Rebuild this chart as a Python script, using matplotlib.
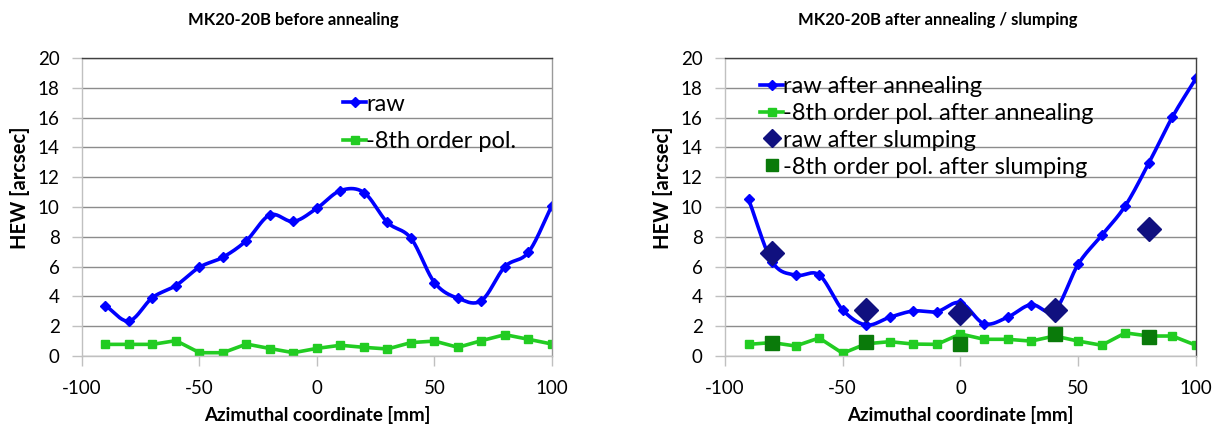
import numpy as np
import matplotlib as mpl
from matplotlib import pyplot as plt

mpl.rcParams['font.family'] = ['Lato', 'DejaVu Sans']
mpl.rcParams['axes.unicode_minus'] = False

# azimuthal positions [mm]
x_pos = [-90, -80, -70, -60, -50, -40, -30, -20, -10, 0, 10, 20, 30, 40, 50, 60, 70, 80, 90, 100]

# before annealing
raw_before = [3.38, 2.35, 3.92, 4.73, 5.96, 6.63, 7.75, 9.47, 9.03, 9.92,
              11.1, 10.97, 8.96, 7.9, 4.93, 3.87, 3.72, 6.0, 6.97, 10.1]
pol_before = [0.78, 0.78, 0.78, 1.03, 0.22, 0.22, 0.8, 0.5, 0.22, 0.51,
              0.72, 0.58, 0.47, 0.9, 1.0, 0.58, 1.03, 1.43, 1.12, 0.8]

# after annealing
raw_anneal = [10.53, 6.34, 5.42, 5.44, 3.09, 2.08, 2.6, 3.02, 2.98, 3.58,
              2.17, 2.6, 3.45, 3.05, 6.16, 8.1, 10.08, 12.95, 16.04, 18.63]
pol_anneal = [0.78, 0.9, 0.67, 1.21, 0.18, 0.82, 0.96, 0.8, 0.78, 1.48,
              1.12, 1.12, 1.0, 1.34, 1.0, 0.72, 1.55, 1.34, 1.34, 0.72]

# after slumping (fewer points)
x_slump = [-80, -40, 0, 40, 80]
raw_slump = [6.9, 3.09, 2.87, 3.09, 8.51]
pol_slump = [0.9, 0.95, 0.8, 1.45, 1.3]

BLUE = "#0000ff"
GREEN = "#22cc22"
NAVY = "#10107f"
DKGREEN = "#0a7a0a"
GRID = "#8c8c8c"
AXIS = "#c0c0c0"
FRAME = "#404040"


def smooth(x, y, n=20):
    # excel-like smoothed line (catmull-rom through the points)
    x = np.asarray(x, float)
    y = np.asarray(y, float)
    px = np.concatenate([[2*x[0]-x[1]], x, [2*x[-1]-x[-2]]])
    py = np.concatenate([[2*y[0]-y[1]], y, [2*y[-1]-y[-2]]])
    xs, ys = [], []
    t = np.linspace(0, 1, n, endpoint=False)
    for i in range(1, len(px)-2):
        for p, out in ((px, xs), (py, ys)):
            p0, p1, p2, p3 = p[i-1], p[i], p[i+1], p[i+2]
            out.extend(0.5*((2*p1) + (-p0+p2)*t + (2*p0-5*p1+4*p2-p3)*t**2 + (-p0+3*p1-3*p2+p3)*t**3))
    xs.append(x[-1])
    ys.append(y[-1])
    return np.array(xs), np.array(ys)


def style_axes(ax, right_color):
    ax.set_xlim(-100, 100)
    ax.set_ylim(0, 20)
    ax.set_xticks([-100, -50, 0, 50, 100])
    ax.set_yticks(range(0, 21, 2))
    ax.yaxis.grid(True, color=GRID, lw=1)
    ax.set_axisbelow(True)
    ax.spines["left"].set_color(AXIS)
    ax.spines["bottom"].set_color(AXIS)
    ax.spines["top"].set_color(FRAME)
    ax.spines["right"].set_color(right_color)
    for s in ax.spines.values():
        s.set_linewidth(1)
    ax.tick_params(axis="both", colors=AXIS, labelcolor="black", labelsize=13.5, length=7, width=1)
    ax.tick_params(axis="x", pad=10)
    ax.tick_params(axis="y", pad=9)
    ax.set_xlabel("Azimuthal coordinate [mm]", fontsize=13.5, fontweight="bold", va="center")
    ax.xaxis.set_label_coords(0.5, -0.198)
    ax.set_ylabel("HEW [arcsec]", fontsize=14.5, fontweight="bold", va="center")
    ax.yaxis.set_label_coords(-0.132, 0.564)


fig = plt.figure(figsize=(12.18, 4.29), dpi=100)
ax1 = fig.add_axes([0.0673, 0.1702, 0.3859, 0.6946])
ax2 = fig.add_axes([0.5952, 0.1702, 0.3867, 0.6946])

# left: before annealing
sx, sy = smooth(x_pos, raw_before)
ax1.plot(sx, sy, color=BLUE, lw=2.6)
ax1.plot(x_pos, raw_before, ls="none", marker="D", ms=5, color=BLUE)
ax1.plot([], [], color=BLUE, lw=2.6, marker="D", ms=5, label="raw")
ax1.plot(x_pos, pol_before, color=GREEN, lw=2.6, marker="s", ms=6, label="-8th order pol.")
style_axes(ax1, "#9a9a9a")
ax1.legend(loc="upper left", bbox_to_anchor=(0.555, 0.88), frameon=False, fontsize=17,
           handlelength=1.0, handletextpad=0.0, labelspacing=0.7, borderaxespad=0, borderpad=0)
fig.text(0.241, 0.953, "MK20-20B before annealing", ha="center", va="center",
         fontsize=12, fontweight="bold")

# right: after annealing / slumping
sx, sy = smooth(x_pos, raw_anneal)
ax2.plot(sx, sy, color=BLUE, lw=2.6)
ax2.plot(x_pos, raw_anneal, ls="none", marker="D", ms=5, color=BLUE)
ax2.plot([], [], color=BLUE, lw=2.6, marker="D", ms=5, label="raw after annealing")
ax2.plot(x_pos, pol_anneal, color=GREEN, lw=2.6, marker="s", ms=6, label="-8th order pol. after annealing")
ax2.plot(x_slump, raw_slump, ls="none", marker="D", ms=12, color=NAVY, label="raw after slumping")
ax2.plot(x_slump, pol_slump, ls="none", marker="s", ms=10, color=DKGREEN, label="-8th order pol. after slumping")
style_axes(ax2, FRAME)
leg = ax2.legend(loc="upper left", bbox_to_anchor=(0.074, 0.94), frameon=False, fontsize=17,
                 handlelength=1.0, handletextpad=0.0, labelspacing=0.25, borderaxespad=0, borderpad=0)
# legend markers of the slumping points are a bit smaller than the plotted ones
for h in leg.legend_handles[2:]:
    h.set_markersize(9)
fig.text(0.770, 0.953, "MK20-20B after annealing / slumping", ha="center", va="center",
         fontsize=12, fontweight="bold")

fig.savefig("out.png", dpi=100)
